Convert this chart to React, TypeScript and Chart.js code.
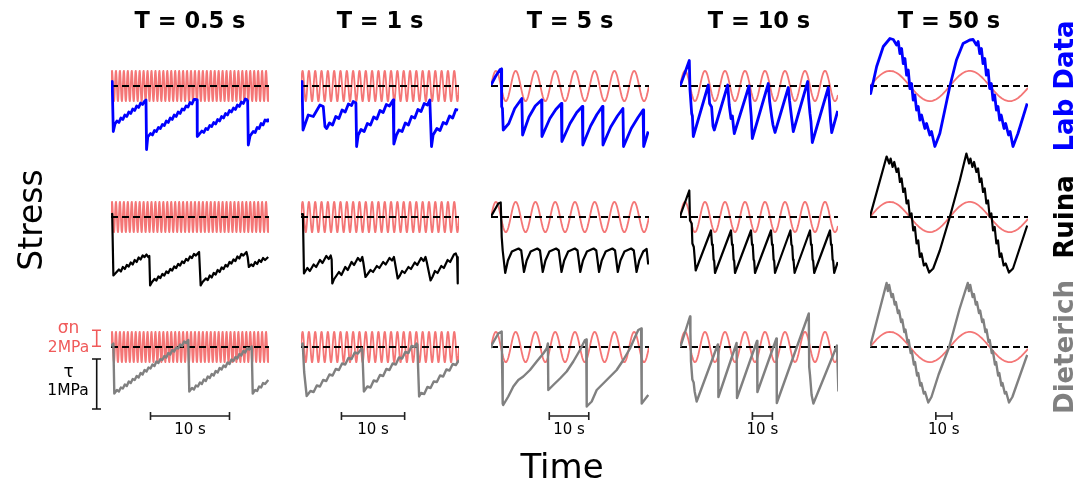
import React, { useEffect, useRef } from "react";
import { Chart, registerables } from "chart.js";
Chart.register(...registerables);

type P = [number, number];

// ---------- data ----------
const TITLES = ["T = 0.5 s", "T = 1 s", "T = 5 s", "T = 10 s", "T = 50 s"];
const PERIODS = [0.5, 1, 5, 10, 50]; // s, normal-stress oscillation period
const DURATIONS = [20, 25, 40, 79, 99]; // s shown in each column
const SIGMA_AMP = 1.9; // MPa, normal stress oscillation amplitude
const ROW_LABELS = ["Lab Data", "Ruina", "Dieterich"];
const SCALEBAR_START = [5, 6.4, 14.75, 36.2, 41.25]; // s
const SCALEBAR_LEN = 10; // s
const SIGMA_BAR = 2; // MPa
const TAU_BAR = 1; // MPa

// shear stress (time s, stress MPa relative to dashed level)
const LAB_05: P[] = [[0,0.05],[0.15,0.09],[0.29,-0.91],[0.5,-0.76],[0.75,-0.70],[1.0,-0.73],[1.25,-0.64],[1.5,-0.67],[1.75,-0.58],[2.0,-0.61],[2.25,-0.52],[2.5,-0.55],[2.75,-0.46],[3.0,-0.49],[3.25,-0.40],[3.5,-0.43],[3.75,-0.34],[4.0,-0.37],[4.22,-0.31],[4.43,-0.28],[4.5,-1.27],[4.65,-1.02],[5.0,-0.95],[5.25,-0.98],[5.5,-0.89],[5.75,-0.91],[6.0,-0.83],[6.25,-0.85],[6.5,-0.77],[6.75,-0.79],[7.0,-0.70],[7.25,-0.73],[7.5,-0.64],[7.75,-0.67],[8.0,-0.58],[8.25,-0.61],[8.5,-0.52],[8.75,-0.55],[9.0,-0.46],[9.25,-0.48],[9.5,-0.40],[9.75,-0.42],[10.0,-0.33],[10.25,-0.36],[10.5,-0.27],[10.76,-0.27],[10.9,-0.28],[10.92,-1.01],[11.1,-0.98],[11.5,-0.90],[11.75,-0.93],[12.0,-0.85],[12.25,-0.87],[12.5,-0.79],[12.75,-0.81],[13.0,-0.73],[13.25,-0.76],[13.5,-0.67],[13.75,-0.70],[14.0,-0.61],[14.25,-0.64],[14.5,-0.55],[14.75,-0.58],[15.0,-0.49],[15.25,-0.52],[15.5,-0.44],[15.75,-0.47],[16.0,-0.38],[16.25,-0.41],[16.5,-0.32],[16.75,-0.35],[17.0,-0.26],[17.18,-0.27],[17.3,-0.3],[17.38,-1.18],[17.6,-1.0],[18.0,-0.91],[18.25,-0.93],[18.5,-0.83],[18.75,-0.85],[19.0,-0.75],[19.25,-0.78],[19.5,-0.68],[19.75,-0.70],[19.87,-0.65]];
const LAB_1: P[] = [[0,0.06],[0.16,0.09],[0.32,-0.88],[1.15,-0.58],[1.94,-0.61],[3.0,-0.38],[3.52,-0.41],[3.79,-0.81],[4.06,-0.85],[4.5,-0.74],[5.0,-0.78],[5.5,-0.61],[6.0,-0.65],[6.5,-0.48],[7.0,-0.52],[7.5,-0.36],[8.0,-0.39],[8.26,-0.31],[8.69,-0.34],[8.8,-1.21],[9.05,-0.98],[9.5,-0.87],[10.0,-0.91],[10.5,-0.75],[11.0,-0.78],[11.5,-0.62],[12.0,-0.66],[12.5,-0.49],[13.0,-0.53],[13.5,-0.37],[14.0,-0.40],[14.58,-0.28],[14.69,-1.16],[15.1,-0.98],[15.5,-0.88],[16.0,-0.91],[16.5,-0.74],[17.0,-0.78],[17.5,-0.61],[18.0,-0.64],[18.5,-0.47],[19.0,-0.51],[19.5,-0.35],[20.0,-0.38],[20.38,-0.28],[20.65,-1.21],[20.9,-0.98],[21.5,-0.85],[22.0,-0.89],[22.5,-0.73],[23.0,-0.76],[23.5,-0.60],[24.0,-0.64],[24.5,-0.47],[24.85,-0.48]];
const LAB_5: P[] = [[0,0.02],[1.2,0.2],[2.3,0.33],[2.6,0.34],[2.7,-0.41],[2.9,-0.45],[3.1,-0.88],[4.5,-0.75],[6.0,-0.45],[7.8,-0.25],[8.0,-0.98],[9.6,-0.62],[11.2,-0.4],[12.8,-0.28],[12.9,-1.01],[14.9,-0.65],[16.4,-0.47],[17.8,-0.35],[17.95,-1.11],[20.0,-0.75],[21.7,-0.53],[23.1,-0.41],[23.25,-1.18],[25.2,-0.8],[26.8,-0.57],[28.2,-0.41],[28.35,-1.18],[30.3,-0.82],[32.0,-0.6],[33.4,-0.45],[33.55,-1.21],[35.5,-0.85],[37.2,-0.63],[38.5,-0.48],[38.65,-1.21],[39.8,-0.91]];
const LAB_10: P[] = [[0,0],[0.5,0.05],[4.65,0.51],[5.0,-0.08],[5.85,-0.55],[6.2,-0.6],[6.65,-1.01],[14.15,0.02],[14.8,-0.35],[15.8,-0.42],[16.5,-0.8],[17.15,-0.88],[23.85,0.02],[24.6,-0.38],[25.5,-0.65],[26.2,-0.6],[26.7,-0.8],[27.15,-0.95],[34.5,0],[35.0,-0.3],[35.6,-0.6],[36.15,-1.05],[44.15,0.05],[44.8,-0.3],[45.8,-0.6],[46.5,-0.78],[47.5,-0.93],[54.15,-0.03],[54.8,-0.3],[55.7,-0.6],[56.65,-0.91],[63.85,0.09],[64.3,-0.25],[65,-0.55],[65.5,-0.72],[66.15,-1.13],[74.15,-0.03],[74.7,-0.3],[75.3,-0.7],[75.85,-0.93],[78.85,-0.5]];
const LAB_50: P[] = [[0,0],[0.42,-0.15],[4.17,0.39],[8.33,0.79],[12.5,0.95],[14.58,0.93],[16.67,0.82],[17.71,0.89],[18.75,0.65],[19.79,0.75],[20.83,0.45],[21.88,0.55],[22.92,0.22],[23.96,0.32],[25.0,-0.05],[26.04,0.05],[27.08,-0.28],[28.13,-0.18],[29.17,-0.48],[30.21,-0.41],[31.25,-0.68],[32.29,-0.58],[34.38,-0.85],[35.42,-0.75],[37.5,-0.98],[38.54,-0.91],[40.63,-1.21],[43.75,-0.95],[46.88,-0.48],[50,-0.01],[54.17,0.52],[58.33,0.85],[62.5,0.92],[64.58,0.93],[66.67,0.82],[67.7,0.89],[68.75,0.65],[69.8,0.75],[70.8,0.45],[71.9,0.55],[72.9,0.22],[74,0.32],[75,-0.05],[76,0.05],[77.1,-0.28],[78.1,-0.18],[79.2,-0.48],[80.2,-0.41],[81.25,-0.68],[82.2,-0.58],[84,-0.85],[85,-0.75],[86.8,-0.98],[87.8,-0.91],[89.6,-1.21],[92.7,-0.95],[98.5,-0.35]];

const RUINA_05: P[] = [[0,0.05],[0.15,0.06],[0.3,-1.17],[0.6,-1.12],[1.0,-1.05],[1.25,-1.09],[1.5,-1.0],[1.75,-1.04],[2.0,-0.96],[2.25,-0.99],[2.5,-0.91],[2.75,-0.95],[3.0,-0.86],[3.25,-0.90],[3.5,-0.81],[3.75,-0.85],[4.0,-0.77],[4.25,-0.80],[4.5,-0.75],[4.7,-0.8],[4.85,-0.78],[4.95,-1.37],[5.2,-1.3],[5.5,-1.24],[5.75,-1.27],[6.0,-1.19],[6.25,-1.22],[6.5,-1.14],[6.75,-1.17],[7.0,-1.09],[7.25,-1.12],[7.5,-1.04],[7.75,-1.07],[8.0,-0.99],[8.25,-1.02],[8.5,-0.94],[8.75,-0.97],[9.0,-0.89],[9.25,-0.92],[9.5,-0.84],[9.75,-0.87],[10.0,-0.79],[10.25,-0.82],[10.5,-0.74],[10.75,-0.77],[11.15,-0.7],[11.35,-1.37],[11.6,-1.3],[12.0,-1.23],[12.25,-1.26],[12.5,-1.17],[12.75,-1.21],[13.0,-1.12],[13.25,-1.15],[13.5,-1.06],[13.75,-1.10],[14.0,-1.01],[14.25,-1.04],[14.5,-0.96],[14.75,-0.99],[15.0,-0.90],[15.25,-0.93],[15.5,-0.85],[15.75,-0.88],[16.0,-0.79],[16.25,-0.83],[16.5,-0.74],[16.75,-0.77],[17.15,-0.7],[17.3,-0.8],[17.45,-1.0],[17.75,-0.95],[18.0,-0.98],[18.25,-0.90],[18.5,-0.94],[18.75,-0.86],[19.0,-0.90],[19.25,-0.82],[19.5,-0.86],[19.9,-0.8]];
const RUINA_1: P[] = [[0,0.05],[0.3,0.06],[0.47,-1.13],[1.0,-1.02],[1.4,-1.08],[2.0,-0.95],[2.4,-1.0],[3.0,-0.86],[3.4,-0.92],[4.0,-0.78],[4.4,-0.84],[4.7,-0.77],[4.85,-0.85],[4.95,-1.33],[5.2,-1.25],[6.0,-1.1],[6.4,-1.16],[7.0,-1.0],[7.4,-1.06],[8.0,-0.9],[8.4,-0.96],[9.0,-0.82],[9.4,-0.88],[9.7,-0.8],[9.85,-0.9],[10.2,-1.2],[10.5,-1.15],[11.0,-1.06],[11.4,-1.1],[12.0,-0.98],[12.4,-1.02],[13.0,-0.9],[13.4,-0.95],[14.0,-0.82],[14.4,-0.87],[14.7,-0.8],[14.85,-0.9],[15.3,-1.23],[15.6,-1.18],[16.0,-1.08],[16.4,-1.12],[17.0,-1.0],[17.4,-1.04],[18.0,-0.91],[18.4,-0.96],[19.0,-0.82],[19.4,-0.88],[19.7,-0.8],[19.9,-0.9],[20.5,-1.27],[20.8,-1.2],[21.2,-1.08],[21.6,-1.12],[22.2,-0.98],[22.6,-1.02],[23.2,-0.86],[23.6,-0.9],[24.2,-0.75],[24.5,-0.73],[24.7,-0.8],[24.8,-1.33]];
const RUINA_5: P[] = [[0,0.01],[0.18,0.01],[1.85,0.27],[2.46,0.29],[2.71,-0.4],[2.96,-0.67],[3.6,-1.12],[4.28,-0.87],[5.29,-0.69],[6.98,-0.63],[7.65,-0.67],[8.35,-1.1],[9.03,-0.87],[10.04,-0.69],[11.73,-0.63],[12.4,-0.67],[13.1,-1.1],[13.78,-0.87],[14.79,-0.69],[16.48,-0.63],[17.15,-0.67],[17.85,-1.1],[18.53,-0.87],[19.54,-0.69],[21.23,-0.63],[21.9,-0.67],[22.6,-1.1],[23.28,-0.87],[24.29,-0.69],[25.98,-0.63],[26.65,-0.67],[27.35,-1.1],[28.03,-0.87],[29.04,-0.69],[30.73,-0.63],[31.4,-0.67],[32.1,-1.1],[32.78,-0.87],[33.79,-0.69],[35.48,-0.63],[36.15,-0.67],[36.85,-1.1],[37.53,-0.87],[38.54,-0.69],[39.4,-0.64],[39.8,-0.95]];
const RUINA_10: P[] = [[0,0],[0.5,0.07],[4.65,0.53],[5.0,-0.07],[5.85,-0.13],[6.2,-0.53],[6.9,-0.6],[7.85,-1.07],[15.5,-0.27],[16.0,-0.55],[16.4,-0.58],[16.8,-0.85],[17.1,-0.88],[17.5,-1.12],[25.5,-0.27],[26.0,-0.55],[26.4,-0.58],[26.8,-0.85],[27.1,-0.88],[27.5,-1.12],[35.5,-0.27],[36.0,-0.55],[36.4,-0.58],[36.8,-0.85],[37.1,-0.88],[37.5,-1.12],[45.5,-0.27],[46.0,-0.55],[46.4,-0.58],[46.8,-0.85],[47.1,-0.88],[47.5,-1.12],[55.2,-0.27],[55.7,-0.55],[56.1,-0.58],[56.5,-0.85],[56.8,-0.88],[57.3,-1.12],[65.0,-0.27],[65.5,-0.55],[65.9,-0.58],[66.3,-0.85],[66.6,-0.88],[67.1,-1.12],[75.0,-0.27],[75.5,-0.55],[75.9,-0.58],[76.3,-0.85],[76.6,-0.88],[77.1,-1.12],[78.85,-0.9]];
const RUINA_50: P[] = [[0,0.01],[10.4,1.21],[12.08,1.07],[12.92,1.17],[14.17,1.0],[15.21,1.1],[16.67,0.9],[17.71,0.97],[18.75,0.7],[19.79,0.77],[20.83,0.5],[21.88,0.57],[22.92,0.27],[23.96,0.33],[25.0,0.0],[26.04,0.07],[27.08,-0.27],[28.13,-0.2],[29.17,-0.53],[30.21,-0.47],[31.25,-0.8],[32.29,-0.73],[33.75,-0.97],[35.0,-0.93],[37.08,-1.11],[39.6,-1.03],[43.75,-0.67],[50,0.0],[56.25,0.73],[60.4,1.27],[62.08,1.07],[62.92,1.17],[64.17,1.0],[65.21,1.1],[66.67,0.9],[67.71,0.97],[68.75,0.7],[69.79,0.77],[70.83,0.5],[71.88,0.57],[72.92,0.27],[73.96,0.33],[75.0,0.0],[76.04,0.07],[77.08,-0.27],[78.13,-0.2],[79.17,-0.53],[80.21,-0.47],[81.25,-0.8],[82.29,-0.73],[83.75,-0.97],[85.0,-0.93],[87.08,-1.11],[89.6,-1.03],[98.5,-0.17]];

const DIET_05: P[] = [[0,0.02],[0.3,0.07],[0.42,-0.93],[0.75,-0.86],[1.0,-0.89],[1.25,-0.81],[1.5,-0.83],[1.75,-0.75],[2.0,-0.78],[2.25,-0.69],[2.5,-0.72],[2.75,-0.64],[3.0,-0.66],[3.25,-0.58],[3.5,-0.61],[3.75,-0.52],[4.0,-0.55],[4.25,-0.46],[4.5,-0.49],[4.75,-0.41],[5.0,-0.43],[5.25,-0.35],[5.5,-0.38],[5.75,-0.29],[6.0,-0.32],[6.25,-0.24],[6.5,-0.26],[6.75,-0.18],[7.0,-0.21],[7.25,-0.12],[7.5,-0.15],[7.75,-0.06],[8.0,-0.09],[8.25,-0.01],[8.5,-0.03],[8.75,0.05],[9.0,0.02],[9.25,0.11],[9.5,0.08],[9.78,0.14],[9.91,-0.89],[10.25,-0.82],[10.5,-0.85],[10.75,-0.77],[11.0,-0.79],[11.25,-0.71],[11.5,-0.74],[11.75,-0.65],[12.0,-0.68],[12.25,-0.59],[12.5,-0.62],[12.75,-0.54],[13.0,-0.57],[13.25,-0.48],[13.5,-0.51],[13.75,-0.42],[14.0,-0.45],[14.25,-0.37],[14.5,-0.40],[14.75,-0.31],[15.0,-0.34],[15.25,-0.25],[15.5,-0.28],[15.75,-0.20],[16.0,-0.23],[16.25,-0.14],[16.5,-0.17],[16.75,-0.08],[17.0,-0.11],[17.25,-0.02],[17.5,-0.05],[17.81,0.01],[17.94,-0.93],[18.25,-0.86],[18.5,-0.88],[18.75,-0.79],[19.0,-0.81],[19.25,-0.72],[19.5,-0.74],[19.91,-0.66]];
const DIET_1: P[] = [[0,0.02],[0.27,0.07],[0.5,-0.5],[0.9,-0.98],[1.5,-0.88],[2.0,-0.9],[2.5,-0.77],[3.0,-0.79],[3.5,-0.66],[4.0,-0.68],[4.5,-0.55],[5.0,-0.57],[5.5,-0.44],[6.0,-0.46],[6.5,-0.33],[7.0,-0.35],[7.5,-0.22],[8.0,-0.24],[8.5,-0.11],[9.0,-0.13],[9.59,-0.03],[9.7,-0.05],[9.95,-0.89],[10.5,-0.79],[11.0,-0.81],[11.5,-0.67],[12.0,-0.69],[12.5,-0.56],[13.0,-0.58],[13.5,-0.44],[14.0,-0.46],[14.5,-0.33],[15.0,-0.35],[15.5,-0.21],[16.0,-0.23],[16.5,-0.10],[17.0,-0.12],[17.5,0.02],[18.0,0.0],[18.28,0.07],[18.4,0.05],[18.69,-0.99],[19.0,-0.92],[19.5,-0.94],[20.0,-0.80],[20.5,-0.82],[21.0,-0.69],[21.5,-0.70],[22.0,-0.57],[22.5,-0.59],[23.0,-0.45],[23.5,-0.47],[24.0,-0.34],[24.5,-0.36],[25.0,-0.26]];
const DIET_5: P[] = [[0,0.0],[0.18,0.04],[1.85,0.27],[2.71,0.31],[2.8,-0.3],[2.96,-1.13],[3.1,-1.16],[4.38,-0.99],[5.65,-0.79],[6.91,-0.66],[8.18,-0.59],[9.87,-0.46],[11.57,-0.29],[13.24,-0.13],[14.1,-0.03],[14.4,0.07],[14.51,-0.86],[15.77,-0.76],[17.47,-0.63],[19.16,-0.49],[20.84,-0.29],[22.53,-0.06],[23.8,0.14],[24.1,0.15],[24.23,-1.19],[25.49,-1.09],[26.76,-0.86],[29.29,-0.66],[31.82,-0.46],[33.49,-0.26],[35.19,-0.03],[36.46,0.2],[37.29,0.34],[38.0,0.37],[38.15,-1.13],[39.82,-0.96]];
const DIET_10: P[] = [[0,0],[0.5,0.04],[5.0,0.61],[5.2,0.3],[5.5,-0.29],[6.17,-0.65],[6.83,-0.71],[7.33,-0.89],[8.33,-1.09],[18.9,0.05],[19.1,0.0],[19.2,-1.0],[28.3,0.08],[28.5,-1.02],[38.5,0.12],[38.7,-0.9],[48.2,0.17],[48.4,-1.12],[64.4,0.67],[64.6,-0.4],[65.0,-0.56],[65.8,-0.96],[66.7,-1.13],[78.5,0.03],[79.2,-0.89]];
const DIET_50: P[] = [[0,0.0],[10.4,1.28],[11.2,1.12],[12.0,1.24],[13.5,1.0],[14.3,1.06],[15.5,0.85],[16.2,0.9],[17.5,0.68],[18.2,0.73],[19.5,0.5],[20.2,0.55],[21.5,0.3],[22.2,0.35],[23.5,0.1],[24.2,0.14],[25.5,-0.12],[26.2,-0.08],[27.5,-0.35],[28.2,-0.3],[29.5,-0.57],[30.2,-0.52],[31.5,-0.77],[32.2,-0.72],[33.7,-0.93],[34.5,-0.9],[36.5,-1.11],[38.5,-1.0],[43.0,-0.55],[49.6,0.0],[56,0.75],[61.25,1.28],[62.0,1.12],[62.8,1.24],[64.3,1.0],[65.1,1.06],[66.3,0.85],[67,0.9],[68.3,0.68],[69,0.73],[70.3,0.5],[71,0.55],[72.3,0.3],[73,0.35],[74.3,0.1],[75,0.14],[76.3,-0.12],[77,-0.08],[78.3,-0.35],[79,-0.3],[80.3,-0.57],[81,-0.52],[82.3,-0.77],[83,-0.72],[84.5,-0.93],[85.3,-0.9],[87.1,-1.11],[89.2,-1.0],[98.5,-0.16]];

const STRESS: P[][][] = [
  [LAB_05, LAB_1, LAB_5, LAB_10, LAB_50],
  [RUINA_05, RUINA_1, RUINA_5, RUINA_10, RUINA_50],
  [DIET_05, DIET_1, DIET_5, DIET_10, DIET_50],
];

// ---------- layout / style ----------
const COL_X = [111, 301, 491, 680, 870];
const PANEL_W = 158;
const ROW_Y = [86, 217, 347];
const PAD_L = 28;
const PAD_R = 6;
const ABOVE = 70;
const BELOW = 75;
const TAU_PX = 50; // px per MPa
const SIG_PX = 8; // px per MPa
const ROW_COLORS = ["#0000ff", "#000000", "#808080"];
const ROW_WIDTHS = [2.8, 2.2, 2.4];
const SIGMA_COLOR = "#f47676";
const FONT = '"DejaVu Sans", sans-serif';

function Panel({ row, col }: { row: number; col: number }) {
  const ref = useRef<HTMLCanvasElement>(null);
  useEffect(() => {
    if (!ref.current) return;
    const T = PERIODS[col];
    const dur = DURATIONS[col];
    const sigma: { x: number; y: number }[] = [];
    const n = Math.round((dur / T) * 24);
    for (let i = 0; i <= n; i++) {
      const t = (dur * i) / n;
      sigma.push({ x: t, y: SIGMA_AMP * Math.sin((2 * Math.PI * t) / T) });
    }
    const pxPerS = PANEL_W / dur;
    const datasets: any[] = [];
    if (row === 2) {
      const b0 = SCALEBAR_START[col];
      const b1 = b0 + SCALEBAR_LEN;
      const yb = -69 / TAU_PX;
      const cap = 4 / TAU_PX;
      datasets.push({
        data: [
          { x: b0, y: yb + cap }, { x: b0, y: yb - cap }, { x: b0, y: yb },
          { x: b1, y: yb }, { x: b1, y: yb + cap }, { x: b1, y: yb - cap },
        ],
        borderColor: "#222", borderWidth: 1.6, yAxisID: "y",
      });
      if (col === 0) {
        const xc = -14.3 / pxPerS;
        const xl = -19 / pxPerS;
        const xr = -10 / pxPerS;
        const s0 = 0.1;
        const s1 = s0 + SIGMA_BAR;
        datasets.push({
          data: [
            { x: xl, y: s1 }, { x: xr, y: s1 }, { x: xc, y: s1 },
            { x: xc, y: s0 }, { x: xl, y: s0 }, { x: xr, y: s0 },
          ],
          borderColor: "#f05a5a", borderWidth: 1.6, yAxisID: "y2", clip: false,
        });
        const t0 = -12 / TAU_PX;
        const t1 = t0 - TAU_BAR;
        datasets.push({
          data: [
            { x: xl, y: t0 }, { x: xr, y: t0 }, { x: xc, y: t0 },
            { x: xc, y: t1 }, { x: xl, y: t1 }, { x: xr, y: t1 },
          ],
          borderColor: "#111", borderWidth: 1.6, yAxisID: "y", clip: false,
        });
      }
    }
    datasets.push(
      {
        data: STRESS[row][col].map(([x, y]) => ({ x, y })),
        borderColor: ROW_COLORS[row], borderWidth: ROW_WIDTHS[row],
        borderJoinStyle: "round", yAxisID: "y",
      },
      {
        data: [{ x: 0, y: 0 }, { x: dur, y: 0 }],
        borderColor: "#000", borderWidth: 2, borderDash: [7, 4], yAxisID: "y",
      },
      {
        data: sigma, borderColor: SIGMA_COLOR, borderWidth: 1.8, yAxisID: "y2",
        tension: 0.01,
      }
    );
    const chart = new Chart(ref.current, {
      type: "line",
      data: { datasets },
      options: {
        responsive: false,
        animation: false,
        devicePixelRatio: 1,
        events: [],
        layout: { padding: { left: PAD_L, right: PAD_R, top: 0, bottom: 0 } },
        plugins: { legend: { display: false }, tooltip: { enabled: false } },
        elements: { point: { radius: 0 }, line: { tension: 0 } },
        scales: {
          x: { type: "linear", min: 0, max: dur, display: false },
          y: { type: "linear", min: -BELOW / TAU_PX, max: ABOVE / TAU_PX, display: false },
          y2: { type: "linear", min: -BELOW / SIG_PX, max: ABOVE / SIG_PX, display: false },
        },
      } as any,
    });
    return () => chart.destroy();
  }, [row, col]);
  return (
    <canvas
      ref={ref}
      width={PAD_L + PANEL_W + PAD_R}
      height={ABOVE + BELOW}
      style={{
        position: "absolute",
        left: COL_X[col] - PAD_L,
        top: ROW_Y[row] - ABOVE,
        width: PAD_L + PANEL_W + PAD_R,
        height: ABOVE + BELOW,
      }}
    />
  );
}

function Txt(props: { x: number; y: number; rot?: boolean; style?: React.CSSProperties; children: React.ReactNode }) {
  return (
    <div
      style={{
        position: "absolute",
        left: props.x,
        top: props.y,
        transform: `translate(-50%, -50%)${props.rot ? " rotate(-90deg)" : ""}`,
        whiteSpace: "nowrap",
        lineHeight: 1,
        fontFamily: FONT,
        ...props.style,
      }}
    >
      {props.children}
    </div>
  );
}

export default function App() {
  const panels: React.ReactNode[] = [];
  for (let r = 0; r < 3; r++)
    for (let c = 0; c < 5; c++) panels.push(<Panel key={`${r}-${c}`} row={r} col={c} />);
  return (
    <div style={{ position: "absolute", left: 0, top: 0, width: 1089, height: 484, background: "#fff", overflow: "hidden" }}>
      {panels}
      {TITLES.map((t, c) => (
        <Txt key={t} x={COL_X[c] + PANEL_W / 2} y={20} style={{ fontSize: 22.5, fontWeight: "bold", color: "#000" }}>
          {t}
        </Txt>
      ))}
      {ROW_LABELS.map((l, r) => (
        <Txt key={l} x={1064} y={ROW_Y[r]} rot style={{ fontSize: 26, fontWeight: "bold", color: ROW_COLORS[r] }}>
          {l}
        </Txt>
      ))}
      {SCALEBAR_START.map((s, c) => (
        <Txt key={"sb" + c} x={COL_X[c] + ((s + SCALEBAR_LEN / 2) * PANEL_W) / DURATIONS[c]} y={429} style={{ fontSize: 15, color: "#000" }}>
          {`${SCALEBAR_LEN} s`}
        </Txt>
      ))}
      <Txt x={29.5} y={220} rot style={{ fontSize: 33, color: "#000" }}>Stress</Txt>
      <Txt x={562} y={466} style={{ fontSize: 34, color: "#000" }}>Time</Txt>
      <Txt x={68.5} y={327} style={{ fontSize: 17, color: "#f05a5a" }}>σn</Txt>
      <Txt x={68.5} y={347.5} style={{ fontSize: 15.5, color: "#f05a5a" }}>{`${SIGMA_BAR}MPa`}</Txt>
      <Txt x={68.5} y={371} style={{ fontSize: 17, color: "#000" }}>τ</Txt>
      <Txt x={68} y={391} style={{ fontSize: 15.5, color: "#000" }}>{`${TAU_BAR}MPa`}</Txt>
    </div>
  );
}
